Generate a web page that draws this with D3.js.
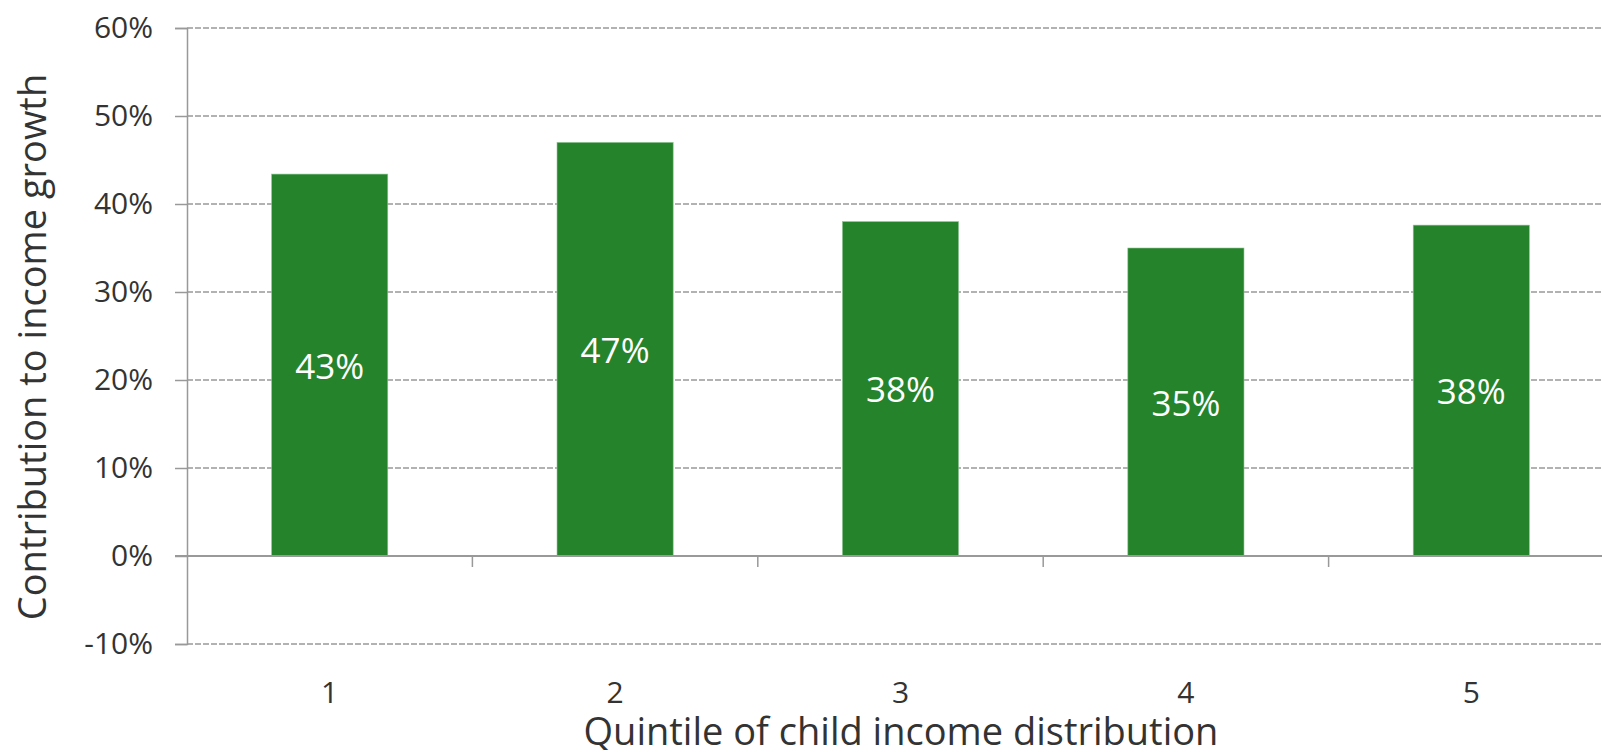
<!DOCTYPE html>
<html>
<head>
<meta charset="utf-8">
<script src="https://cdn.jsdelivr.net/npm/d3@7"></script>
<style>
  html, body { margin: 0; padding: 0; background: #fff; }
  svg { display: block; font-family: "Open Sans", "Noto Sans", sans-serif; }
</style>
</head>
<body>
<svg id="chart"></svg>
<script>
// chart data
const categories = ["1", "2", "3", "4", "5"];
const values = [0.434, 0.470, 0.380, 0.350, 0.376];
const barLabels = ["43%", "47%", "38%", "35%", "38%"];
const yTicks = [-0.1, 0, 0.1, 0.2, 0.3, 0.4, 0.5, 0.6];

const width = 1602;
const height = 750;
const margin = { top: 28, right: -12, bottom: 106, left: 187 };
const innerWidth = width - margin.left - margin.right;
const innerHeight = height - margin.top - margin.bottom;
const fontFamily = '"Open Sans", "Noto Sans", sans-serif';

const svg = d3.select("#chart")
    .attr("width", width)
    .attr("height", height);

const g = svg.append("g")
    .attr("transform", `translate(${margin.left},${margin.top})`);

// scales
const x = d3.scaleBand()
    .domain(categories)
    .range([0, innerWidth]);

const xBar = d3.scaleBand()
    .domain(categories)
    .range([0, innerWidth])
    .paddingInner(0.593)
    .paddingOuter(0.2965);

const y = d3.scaleLinear()
    .domain([-0.1, 0.6])
    .range([innerHeight, 0]);

// dashed gridlines
g.append("g")
    .selectAll("line")
    .data(yTicks.filter(d => d !== 0))
    .enter().append("line")
    .attr("x1", 0)
    .attr("x2", innerWidth)
    .attr("y1", d => y(d))
    .attr("y2", d => y(d))
    .style("stroke", "#999")
    .style("stroke-width", 1.5)
    .style("stroke-dasharray", "6,2");

// y axis
const yAxis = g.append("g")
    .call(d3.axisLeft(y)
        .tickValues(yTicks)
        .tickSize(12)
        .tickPadding(22)
        .tickFormat(d => Math.round(d * 100) + "%"));
yAxis.attr("font-family", null);
yAxis.select(".domain").style("stroke", "#999").style("stroke-width", 1.5);
yAxis.selectAll("line").style("stroke", "#999").style("stroke-width", 1.5);
yAxis.selectAll("text")
    .style("font-family", fontFamily)
    .style("font-size", "30px")
    .style("fill", "#333");

// bars
g.selectAll("rect.bar")
    .data(values)
    .enter().append("rect")
    .attr("class", "bar")
    .attr("x", (d, i) => xBar(categories[i]))
    .attr("y", d => y(Math.max(0, d)))
    .attr("width", xBar.bandwidth())
    .attr("height", d => Math.abs(y(d) - y(0)))
    .attr("fill", "#25832b")
    .style("stroke", "#8fc494")
    .style("stroke-width", 0.6);

// zero line
g.append("line")
    .attr("x1", -12)
    .attr("x2", innerWidth)
    .attr("y1", y(0))
    .attr("y2", y(0))
    .style("stroke", "#999")
    .style("stroke-width", 2);

// category ticks on the zero line
g.append("g")
    .selectAll("line")
    .data(categories.slice(1))
    .enter().append("line")
    .attr("x1", d => x(d))
    .attr("x2", d => x(d))
    .attr("y1", y(0))
    .attr("y2", y(0) + 11)
    .style("stroke", "#999")
    .style("stroke-width", 1.5);

// category labels
g.append("g")
    .selectAll("text")
    .data(categories)
    .enter().append("text")
    .attr("x", d => x(d) + x.bandwidth() / 2)
    .attr("y", innerHeight + 47)
    .attr("text-anchor", "middle")
    .attr("dominant-baseline", "central")
    .style("font-size", "30px")
    .style("fill", "#333")
    .text(d => d);

// bar value labels
g.append("g")
    .selectAll("text")
    .data(values)
    .enter().append("text")
    .attr("x", (d, i) => xBar(categories[i]) + xBar.bandwidth() / 2)
    .attr("y", d => (y(d) + y(0)) / 2)
    .attr("text-anchor", "middle")
    .attr("dominant-baseline", "central")
    .style("font-size", "35px")
    .style("fill", "#fff")
    .text((d, i) => barLabels[i]);

// axis titles
svg.append("text")
    .attr("x", 901)
    .attr("y", 730)
    .attr("text-anchor", "middle")
    .attr("dominant-baseline", "central")
    .style("font-size", "38px")
    .style("fill", "#333")
    .text("Quintile of child income distribution");

svg.append("text")
    .attr("transform", "translate(31,347) rotate(-90)")
    .attr("text-anchor", "middle")
    .attr("dominant-baseline", "central")
    .style("font-size", "38px")
    .style("fill", "#333")
    .text("Contribution to income growth");
</script>
</body>
</html>
